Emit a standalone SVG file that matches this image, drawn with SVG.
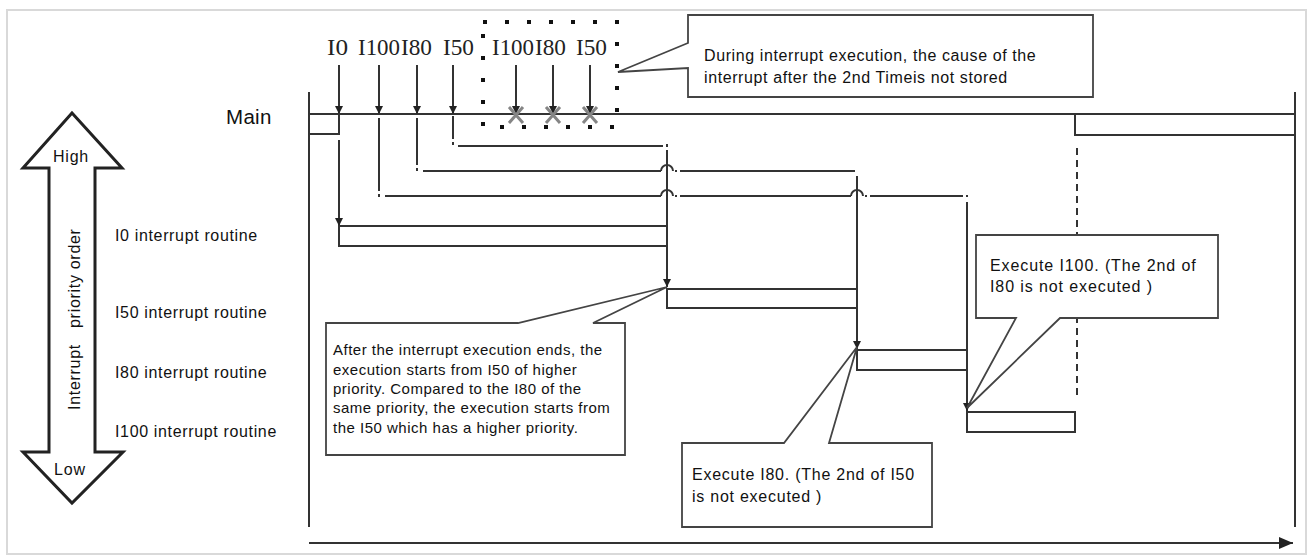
<svg xmlns="http://www.w3.org/2000/svg" width="1309" height="557" viewBox="0 0 1309 557">
  <style>
    .ln { stroke: #333; stroke-width: 2; fill: none; }
    .dt { fill: #333; }
    .box { stroke: #333; stroke-width: 2; fill: #fff; }
    .call { stroke: #444; stroke-width: 1.8; fill: #fff; stroke-linejoin: miter; }
    .t { font-family: "Liberation Sans", Arial, sans-serif; font-size: 16px; fill: #111; }
    .sm { font-size: 15px; letter-spacing: 0.5px; }
    .big { font-size: 20.5px; letter-spacing: 0.3px; }
    .tag { font-family: "Liberation Serif", "Times New Roman", serif; font-size: 24px; fill: #222; }
    .x { stroke: #858585; stroke-width: 3; }
  </style>
  <defs>
    <marker id="ah" viewBox="0 0 8 8" refX="8" refY="4" markerWidth="8" markerHeight="8" markerUnits="userSpaceOnUse" orient="auto">
      <path d="M0,0 L8,4 L0,8 Z" fill="#222"/>
    </marker>
    <marker id="big" viewBox="0 0 14 12" refX="14" refY="6" markerWidth="14" markerHeight="12" markerUnits="userSpaceOnUse" orient="auto">
      <path d="M0,0 L14,6 L0,12 Z" fill="#222"/>
    </marker>
  </defs>

  <rect x="0" y="0" width="1309" height="557" fill="#fff"/>
  <!-- outer frame -->
  <rect x="7" y="10" width="1299" height="544" fill="none" stroke="#d9d9d9" stroke-width="2"/>

  <!-- priority scale -->
  <g id="priority-scale">
    <path d="M72,113 L122,168 L95,168 L95,452 L123,452 L72,503 L23,452 L49,452 L49,168 L23,168 Z" fill="none" stroke="#222" stroke-width="3" stroke-linejoin="miter"/>
    <text class="t" x="71" y="162" text-anchor="middle" letter-spacing="0.8">High</text>
    <text class="t" x="70" y="475" text-anchor="middle" letter-spacing="0.8">Low</text>
    <text class="t" transform="translate(80,410) rotate(-90)" letter-spacing="0.7">Interrupt</text>
    <text class="t" transform="translate(80,328) rotate(-90)" letter-spacing="0.7">priority order</text>
  </g>

  <!-- row labels -->
  <g id="labels">
    <text class="t big" x="226" y="124">Main</text>
    <text class="t" x="115" y="241" letter-spacing="0.65">I0 interrupt routine</text>
    <text class="t" x="115" y="318" letter-spacing="0.65">I50 interrupt routine</text>
    <text class="t" x="115" y="378" letter-spacing="0.65">I80 interrupt routine</text>
    <text class="t" x="115" y="437" letter-spacing="0.65">I100 interrupt routine</text>
  </g>

  <!-- time axes -->
  <g id="axes">
    <line class="ln" x1="309" y1="92" x2="309" y2="527"/>
    <line class="ln" x1="1295" y1="92" x2="1295" y2="527"/>
    <line class="ln" x1="309" y1="543" x2="1293" y2="543" marker-end="url(#big)"/>
  </g>

  <!-- main program bars -->
  <g id="main">
    <line class="ln" x1="309" y1="114" x2="1295" y2="114"/>
    <polyline class="ln" points="309,134 339,134 339,114"/>
    <polyline class="ln" points="1295,135 1075,135 1075,114"/>
  </g>

  <!-- interrupt routine bars -->
  <g id="i0-routine"><rect class="box" x="339" y="226" width="328" height="20"/></g>
  <g id="i50-routine"><rect class="box" x="667" y="289" width="190" height="19"/></g>
  <g id="i80-routine"><rect class="box" x="857" y="350" width="110" height="20"/></g>
  <g id="i100-routine"><rect class="box" x="967" y="412" width="108" height="20"/></g>

  <!-- interrupt requests -->
  <g id="requests">
    <text class="tag" x="327" y="55" textLength="21" lengthAdjust="spacingAndGlyphs">I0</text>
    <text class="tag" x="358" y="55" textLength="42" lengthAdjust="spacingAndGlyphs">I100</text>
    <text class="tag" x="401" y="55" textLength="31" lengthAdjust="spacingAndGlyphs">I80</text>
    <text class="tag" x="443" y="55" textLength="31" lengthAdjust="spacingAndGlyphs">I50</text>
    <text class="tag" x="492" y="55" textLength="42" lengthAdjust="spacingAndGlyphs">I100</text>
    <text class="tag" x="535" y="55" textLength="31" lengthAdjust="spacingAndGlyphs">I80</text>
    <text class="tag" x="576" y="55" textLength="31" lengthAdjust="spacingAndGlyphs">I50</text>
    <line class="ln" x1="339" y1="65" x2="339" y2="114" marker-end="url(#ah)"/>
    <line class="ln" x1="379" y1="65" x2="379" y2="114" marker-end="url(#ah)"/>
    <line class="ln" x1="417" y1="65" x2="417" y2="114" marker-end="url(#ah)"/>
    <line class="ln" x1="453" y1="65" x2="453" y2="114" marker-end="url(#ah)"/>
    <line class="ln" x1="516" y1="65" x2="516" y2="114" marker-end="url(#ah)"/>
    <line class="ln" x1="553" y1="65" x2="553" y2="114" marker-end="url(#ah)"/>
    <line class="ln" x1="590" y1="65" x2="590" y2="114" marker-end="url(#ah)"/>
    <!-- discarded second requests -->
    <path class="x" d="M509,107 L523,123 M523,107 L509,123"/>
    <path class="x" d="M546,107 L560,123 M560,107 L546,123"/>
    <path class="x" d="M583,107 L597,123 M597,107 L583,123"/>
    <!-- dotted frame around the second requests -->
    <rect x="483" y="22" width="134" height="105" fill="none" stroke="#111" stroke-width="4" stroke-dasharray="4 18"/>
  </g>

  <!-- execution flow connectors -->
  <g id="connectors">
    <!-- I0 -->
    <line class="ln" x1="339" y1="140" x2="339" y2="226" marker-end="url(#ah)"/>
    <!-- I50 -->
    <line class="ln" x1="453" y1="116" x2="453" y2="139"/>
    <rect class="dt" x="452" y="142" width="2" height="3"/>
    <line class="ln" x1="458" y1="146" x2="663" y2="146"/>
    <rect class="dt" x="666" y="144" width="2" height="3"/>
    <line class="ln" x1="667" y1="150" x2="667" y2="287" marker-end="url(#ah)"/>
    <!-- I80 -->
    <line class="ln" x1="417" y1="118" x2="417" y2="165"/>
    <rect class="dt" x="416" y="168" width="2" height="3"/>
    <line class="ln" x1="423" y1="171" x2="661" y2="171"/>
    <path class="ln" d="M661,171 a6,6 0 0 1 12,0"/>
    <rect class="dt" x="675" y="170" width="2" height="2"/>
    <line class="ln" x1="680" y1="171" x2="855" y2="171"/>
    <line class="ln" x1="857" y1="176" x2="857" y2="349" marker-end="url(#ah)"/>
    <!-- I100 -->
    <line class="ln" x1="379" y1="118" x2="379" y2="191"/>
    <rect class="dt" x="378" y="194" width="2" height="3"/>
    <line class="ln" x1="385" y1="196" x2="661" y2="196"/>
    <path class="ln" d="M661,196 a6,6 0 0 1 12,0"/>
    <rect class="dt" x="675" y="195" width="2" height="2"/>
    <line class="ln" x1="680" y1="196" x2="851" y2="196"/>
    <path class="ln" d="M851,196 a6,6 0 0 1 12,0"/>
    <rect class="dt" x="865" y="195" width="2" height="2"/>
    <line class="ln" x1="870" y1="196" x2="963" y2="196"/>
    <rect class="dt" x="966" y="195" width="2" height="2"/>
    <line class="ln" x1="967" y1="202" x2="967" y2="411" marker-end="url(#ah)"/>
    <!-- return to main -->
    <line class="ln" x1="1077" y1="148" x2="1077" y2="400" stroke-dasharray="7 5"/>
  </g>

  <!-- callouts -->
  <g id="note-not-stored">
    <path class="call" d="M688,15 H1093 V97 H688 V68 L618,72 L688,43 Z"/>
    <text class="t" x="704" y="61" letter-spacing="0.6">During interrupt execution, the cause of the</text>
    <text class="t" x="704" y="83" letter-spacing="0.6">interrupt after the 2nd Timeis not stored</text>
  </g>

  <g id="note-i50-first">
    <path class="call" d="M326,323 H518 L667,287 L593,323 H625 V455 H326 Z"/>
    <text class="t sm" x="333" y="355">After the interrupt execution ends, the</text>
    <text class="t sm" x="333" y="374.5">execution starts from I50 of higher</text>
    <text class="t sm" x="333" y="394">priority. Compared to the I80 of the</text>
    <text class="t sm" x="333" y="413">same priority, the execution starts from</text>
    <text class="t sm" x="333" y="432.5">the I50 which has a higher priority.</text>
  </g>

  <g id="note-i80">
    <path class="call" d="M682,443 H784 L857,347 L829,443 H932 V527 H682 Z"/>
    <text class="t" x="692" y="480" letter-spacing="0.75">Execute I80. (The 2nd of I50</text>
    <text class="t" x="692" y="502" letter-spacing="0.75">is not executed )</text>
  </g>

  <g id="note-i100">
    <path class="call" d="M976,235 H1218 V318 H1060 L967,408 L1016,318 H976 Z"/>
    <text class="t" x="990" y="271" letter-spacing="0.9">Execute I100. (The 2nd of</text>
    <text class="t" x="990" y="292" letter-spacing="0.9">I80 is not executed )</text>
  </g>
</svg>
